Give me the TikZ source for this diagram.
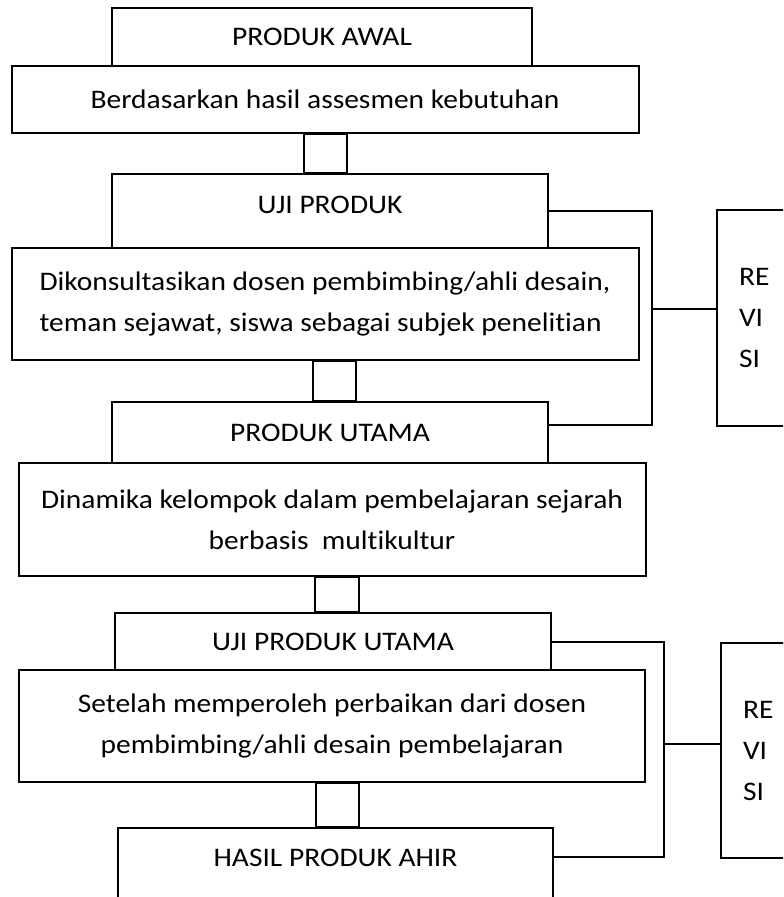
\documentclass[tikz,border=0pt]{standalone}
\usepackage{fontspec}
\setmainfont[FakeStretch=1.1, Ligatures={NoCommon}]{Carlito}
\usetikzlibrary{positioning}
\newcommand{\stagefont}{\fontsize{13.4}{20.5}\selectfont}
\tikzset{
  stagebox/.style={draw, line width=1pt, align=center, inner sep=0pt,
    font=\stagefont},
  pipebox/.style={draw, line width=1pt},
  revlink/.style={line width=1pt},
}
\begin{document}
\begin{tikzpicture}[x=0.5pt, y=-0.5pt]
  \clip (0,0) rectangle (783,897);
  \node[stagebox, minimum width=210pt, minimum height=29pt] (awal) at (322,37) {PRODUK AWAL};
  \node[stagebox, minimum width=313.5pt, minimum height=33.5pt] (berdasar) at (325,99.5) {Berdasarkan hasil assesmen kebutuhan};
  \node[stagebox, minimum width=218pt, minimum height=37pt, text depth=6pt] (uji) at (330,211) {UJI PRODUK};
  \node[stagebox, align=left, minimum width=313.5pt, minimum height=56pt] (konsul) at (325,304) {Dikonsultasikan dosen pembimbing/ahli desain,\\teman sejawat, siswa sebagai subjek penelitian};
  \node[stagebox, minimum width=218pt, minimum height=30.5pt] (utama) at (330,432.5) {PRODUK UTAMA};
  \node[stagebox, minimum width=313.5pt, minimum height=56.5pt] (dinamika) at (332,519.5) {Dinamika kelompok dalam pembelajaran sejarah\\berbasis\ \ multikultur};
  \node[stagebox, minimum width=218pt, minimum height=28.5pt] (ujiutama) at (333,641.5) {UJI PRODUK UTAMA};
  \node[stagebox, minimum width=313pt, minimum height=56pt] (setelah) at (332,726) {Setelah memperoleh perbaikan dari dosen\\pembimbing/ahli desain pembelajaran};
  \node[stagebox, anchor=north, minimum width=217.5pt, text height=19.15pt, text depth=30.85pt] (hasil) at (335.5,827) {HASIL PRODUK AHIR};
  \node[stagebox, anchor=north west, align=left, text width=34pt, inner xsep=11pt, minimum height=108pt] (revisi1) at (716,209) {RE\\VI\\SI};
  \node[stagebox, anchor=north west, align=left, text width=34pt, inner xsep=11pt, minimum height=107.5pt] (revisi2) at (720,642) {RE\\VI\\SI};
  \draw[pipebox] (304,0 |- berdasar.south) rectangle (347,0 |- uji.north);
  \draw[pipebox] (313,0 |- konsul.south) rectangle (356,0 |- utama.north);
  \draw[pipebox] (315,0 |- dinamika.south) rectangle (359,0 |- ujiutama.north);
  \draw[pipebox] (316,0 |- setelah.south) rectangle (359,0 |- hasil.north);
  \coordinate (bus1) at (652,309);
  \coordinate (bus2) at (664,744);
  \draw[revlink] (uji.east) -| (bus1) |- ([yshift=3.75pt]utama.east);
  \draw[revlink] (bus1) -- (bus1 -| revisi1.west);
  \draw[revlink] (ujiutama.east) -| (bus2) |- ([yshift=-15pt]hasil.north east);
  \draw[revlink] (bus2) -- (bus2 -| revisi2.west);
\end{tikzpicture}
\end{document}
